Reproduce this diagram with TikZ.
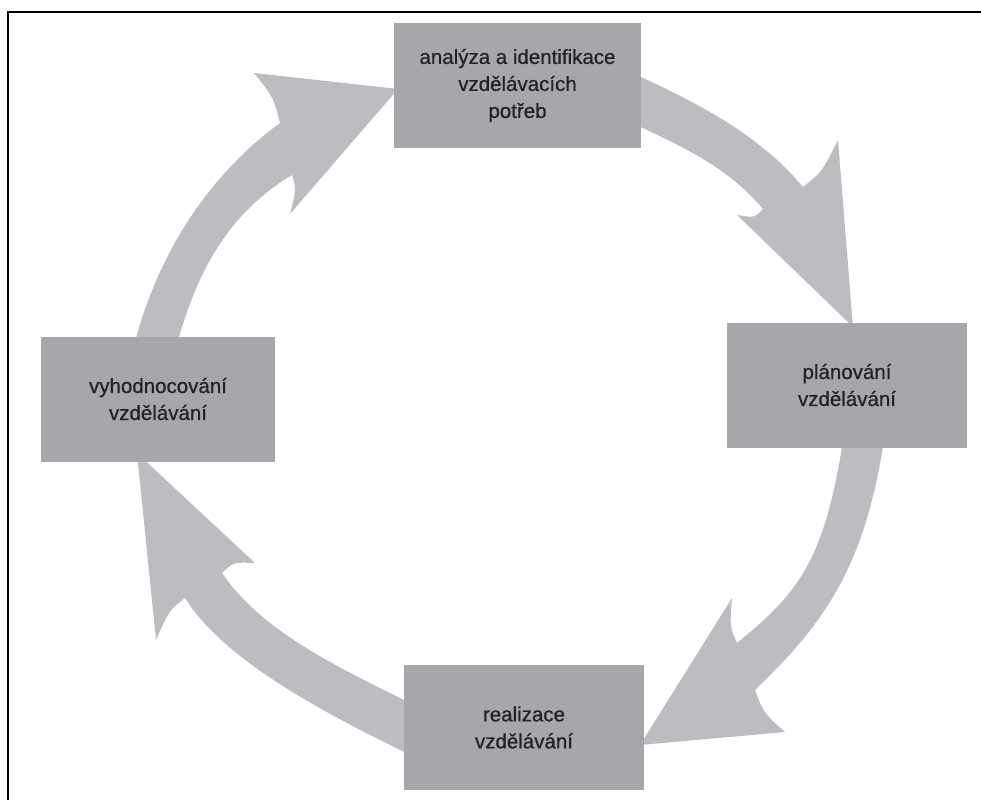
\documentclass[tikz,border=0pt]{standalone}
\usepackage{fontspec}
\newfontfamily\stagefont{Liberation Sans}[FakeBold=0.6]
\usetikzlibrary{calc,backgrounds}
\definecolor{BoxGray}{RGB}{166,167,171}
\definecolor{ArrowGray}{RGB}{188,189,193}
\definecolor{LabelInk}{RGB}{34,34,36}
\tikzset{
  stage/.style={fill=BoxGray,text=LabelInk,align=center,inner sep=0pt,
    minimum width=240pt,minimum height=125pt,
    font=\stagefont\fontsize{20.5}{27}\selectfont},
  bandfill/.style={fill=ArrowGray},
  frameline/.style={draw=black,line width=2pt}
}
\newcommand{\notch}[3]{.. controls ($(#1)!.5!(#2)!.05!(#3)$) .. (#2)}

\begin{document}
\begin{tikzpicture}[x=1pt,y=-1pt]
  \useasboundingbox (0,0) rectangle (981,800);
  \draw[frameline] (981,12) -| (8,800);

  \node[stage,minimum width=247pt] (top) at (517.5,85.5)
    {analýza a identifikace\\vzdělávacích\\potřeb};
  \node[stage] (rgt) at (847,385) {plánování\\vzdělávání};
  \node[stage] (bot) at (524,727.5) {realizace\\vzdělávání};
  \node[stage,minimum width=234pt] (lft) at (158,399)
    {vyhodnocování\\vzdělávání};

  \begin{pgfonlayer}{background}
    \fill[bandfill] ($(lft.north)+(-25,14)$) .. controls (156,254) and (210,174) .. (280,123)
      \notch{280,123}{254,73}{398,89} -- (398,89) -- (290,214) \notch{290,214}{292,175}{398,89}
      .. controls (234,210) and (196,264) .. ($(lft.north)+(15,24)$) -- cycle;
    \fill[bandfill] ($(top.east)+(-11,-13.5)$) .. controls (705,106) and (761,137) .. (803,187)
      \notch{803,187}{838,140}{853,327} -- (853,327) -- (737,215) \notch{737,215}{763,209}{853,327}
      .. controls (727,167) and (687,148) .. ($(top.east)+(-29,28.5)$) -- cycle;
    \fill[bandfill] ($(rgt.south)+(38,-14)$) .. controls (866,563) and (828,620) .. (755,690)
      \notch{755,690}{785,732}{640,745} -- (640,745) -- (732,598) \notch{732,598}{737,643}{640,745}
      .. controls (802,590) and (826,557) .. ($(rgt.south)+(-2,-20)$) -- cycle;
    \fill[bandfill] ($(bot.west)+(9,28.5)$) .. controls (321,712) and (223,659) .. (185,598)
      \notch{185,598}{156,640}{137,453} -- (137,453) -- (255,563) \notch{255,563}{222,573}{137,453}
      .. controls (263,633) and (339,668) .. ($(bot.west)+(27,-14.5)$) -- cycle;
  \end{pgfonlayer}
\end{tikzpicture}
\end{document}
